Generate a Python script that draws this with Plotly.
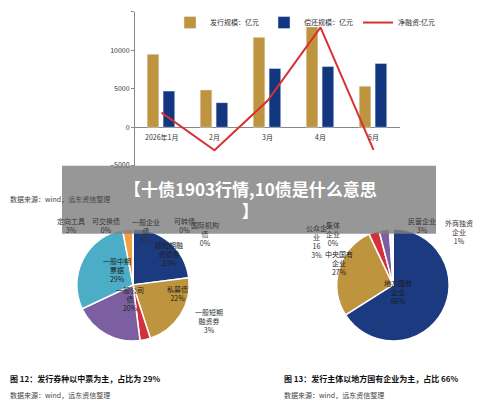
import plotly.graph_objects as go

months = ["2026年1月", "2月", "3月", "4月", "5月"]
issue = [9500, 4850, 11700, 13050, 5350]
repay = [4700, 3200, 7650, 7900, 8300]
net = [1900, -3000, 3450, 13000, -2950]

kinds = ["超短期融资券", "私募债", "一般短期融资券", "一般公司债", "一般中期票据", "定向工具",
         "可交换债", "一般企业债", "可转债", "国际机构债"]
kind_share = [23, 22, 3, 20, 29, 3, 0, 0, 0, 0]
kind_colors = ["#1b3a80", "#bf943e", "#d2303a", "#7b5fa0", "#4badc6", "#f0a048",
               "#999999", "#bbbbbb", "#dddddd", "#eeeeee"]

owners = ["地方国有企业", "中央国有企业", "公众企业", "民营企业", "外商独资企业", "集体企业"]
owner_share = [66, 27, 3, 3, 1, 0]
owner_colors = ["#1b3a80", "#bf943e", "#d2303a", "#7b5fa0", "#f4f4f8", "#cccccc"]

FONT = "Noto Sans CJK SC"
W, H = 500, 406
OFF = 8  # the page body adds an 8px margin


def px(x, y):
    return (x - OFF) / W, 1 - (y - OFF) / H


def dom(x0, x1, y0, y1):
    a, b = px(x0, y1)
    c, d = px(x1, y0)
    return dict(x=[a, c], y=[b, d])


fig = go.Figure()
fig.add_bar(x=months, y=issue, name="发行规模：亿元", marker_color="#bf943e", width=0.22, offset=-0.27)
fig.add_bar(x=months, y=repay, name="偿还规模：亿元", marker_color="#12367f", width=0.22, offset=0.03)
fig.add_scatter(x=months, y=net, name="净融资:亿元", mode="lines", line=dict(color="#d93030", width=2))

# month labels sit just under the zero line
for m in months:
    fig.add_annotation(x=m, y=0, xref="x", yref="y", text=m, showarrow=False, yanchor="top", yshift=-3,
                       font=dict(size=7, color="#333", family=FONT))

fig.add_pie(labels=kinds, values=kind_share, marker=dict(colors=kind_colors, line=dict(color="white", width=1.5)),
            sort=False, direction="clockwise", rotation=0, textinfo="none", showlegend=False,
            domain=dom(76, 190, 230, 344))
fig.add_pie(labels=owners, values=owner_share, marker=dict(colors=owner_colors, line=dict(color="white", width=1.5)),
            sort=False, direction="clockwise", rotation=0, textinfo="none", showlegend=False,
            domain=dom(336, 450, 230, 344))

annos = [
    # pie 1 labels
    (153, 256, "超短期融<br>资债券<br>23%", 7, "#222"),
    (165, 307, "私募债<br>22%", 7, "#222"),
    (114, 318, "一般公司<br>债<br>20%", 7, "#222"),
    (101, 272, "一般中期<br>票据<br>29%", 7, "#222"),
    (209, 340, "一般短期<br>融资券<br>3%", 7, "#333"),
    (55, 227, "定向工具<br>3%", 7, "#333"),
    (90, 227, "可交换债<br>0%", 7, "#333"),
    (130, 232, "一般企业<br>债<br>0%", 7, "#333"),
    (172, 227, "可转债<br>0%", 7, "#333"),
    (205, 235, "国际机构<br>债<br>0%", 7, "#333"),
    # pie 2 labels
    (355, 281, "中央国有<br>企业<br>27%", 7, "#222"),
    (414, 310, "地方国有<br>企业<br>66%", 7, "#1a1a1a"),
    (316, 243, "公众企<br>业<br>16<br>3%", 7, "#333"),
    (342, 235, "集体<br>企业<br>0%", 7, "#333"),
    (438, 227, "民营企业<br>3%", 7, "#333"),
    (475, 233, "外商独资<br>企业<br>1%", 7, "#333"),
]
for x, y, t, s, c in annos:
    ax, ay = px(x, y)
    fig.add_annotation(x=ax, y=ay, xref="paper", yref="paper", text=t, showarrow=False,
                       font=dict(size=s, color=c, family=FONT), align="center")

texts = [
    (8, 200, "数据来源：wind，远东资信整理", 7, "#444"),
    (8, 390, "<b>图 12：发行券种以中票为主，占比为 29%</b>", 8, "#111"),
    (8, 406, "数据来源：wind，远东资信整理", 7, "#444"),
    (282, 390, "<b>图 13：发行主体以地方国有企业为主，占比 66%</b>", 8, "#111"),
    (282, 406, "数据来源：wind，远东资信整理", 7, "#444"),
]
for x, y, t, s, c in texts:
    ax, ay = px(x, y)
    fig.add_annotation(x=ax, y=ay, xref="paper", yref="paper", text=t, showarrow=False, xanchor="left",
                       font=dict(size=s, color=c, family=FONT))

# gray title banner over the page
bx0, by1 = px(62, 166)
bx1, by0 = px(436, 235)
fig.add_shape(type="rect", xref="paper", yref="paper", x0=bx0, x1=bx1, y0=by0, y1=by1,
              fillcolor="rgba(128,128,128,0.82)", line_width=0, layer="above")
tx, ty = px(250, 200)
fig.add_annotation(x=tx, y=ty, xref="paper", yref="paper", showarrow=False,
                   text="<b>【十债1903行情,10债是什么意思<br>】</b>", align="center",
                   font=dict(size=17, color="white", family=FONT))

bar_dom = dom(135, 400, 10, 166)
lx, ly = px(170, 6)
fig.update_layout(
    width=W, height=H, margin=dict(l=0, r=0, t=0, b=0),
    paper_bgcolor="white", plot_bgcolor="white",
    font=dict(family=FONT, size=7, color="#333"),
    barmode="overlay",
    xaxis=dict(domain=bar_dom["x"], anchor="y", showticklabels=False, ticks=""),
    yaxis=dict(domain=bar_dom["y"], range=[-5000, 15000], dtick=5000, tickformat="d",
               showgrid=False, zeroline=True, zerolinecolor="#888", zerolinewidth=1, showline=True,
               linecolor="#888", ticks="outside", ticklen=3, tickcolor="#888", tickfont=dict(size=7)),
    legend=dict(orientation="h", x=lx, y=ly, yanchor="top", font=dict(size=7),
                bgcolor="rgba(0,0,0,0)"),
)

fig.write_html("out.html")
